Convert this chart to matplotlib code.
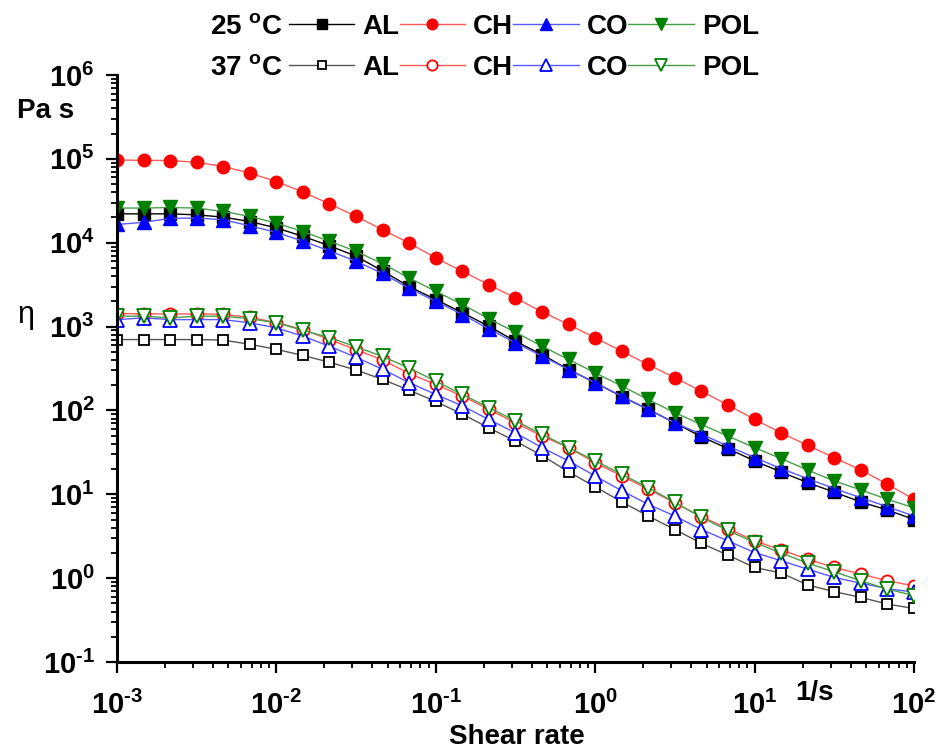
import numpy as np
import matplotlib
matplotlib.use('Agg')
import matplotlib.pyplot as plt
from matplotlib.ticker import LogLocator, FuncFormatter, NullFormatter

plt.rcParams['font.family'] = ['Liberation Sans', 'DejaVu Sans']
plt.rcParams['mathtext.fontset'] = 'custom'
plt.rcParams['mathtext.rm'] = 'Liberation Sans:bold'
plt.rcParams['mathtext.bf'] = 'Liberation Sans:bold'
plt.rcParams['mathtext.it'] = 'Liberation Sans:italic'

# ---------------- data ----------------
shear_rate = [0.001, 0.00147, 0.00215, 0.00316, 0.00464, 0.00681,
              0.01, 0.0147, 0.0215, 0.0316, 0.0464, 0.0681,
              0.1, 0.147, 0.215, 0.316, 0.464, 0.681,
              1.0, 1.47, 2.15, 3.16, 4.64, 6.81,
              10.0, 14.7, 21.5, 31.6, 46.4, 68.1, 100.0]

al_25 = [22100, 22100, 22100, 21500, 20200, 17900, 15000, 11900, 9200, 6900,
         4600, 3000, 2100, 1460, 1010, 668, 464, 307, 214, 146,
         103, 71, 48.6, 35, 25, 18.4, 13.8, 10.6, 8.1, 6.5, 5.0]
ch_25 = [97000, 96000, 95500, 91000, 81000, 67600, 53700, 40200, 29100, 20600,
         14300, 9900, 6580, 4550, 3160, 2190, 1500, 1060, 733, 508,
         353, 245, 170, 116, 78, 54, 38.3, 27.3, 19.5, 13.2, 8.7]
co_25 = [16500, 17500, 19500, 19700, 18800, 15900, 13300, 10400, 8000, 6000,
         4300, 2850, 2000, 1390, 938, 640, 444, 307, 214, 148,
         103, 71, 52, 37.6, 27.4, 20.2, 15.4, 11.7, 9.1, 7.1, 5.5]
pol_25 = [25900, 25900, 26300, 25900, 23600, 20600, 17100, 13600, 10400, 7900,
          5600, 3800, 2630, 1830, 1240, 855, 583, 405, 281, 195,
          135, 94, 68, 49.4, 36, 26.6, 19.5, 14.4, 11.3, 8.7, 6.9]

al_37 = [700, 700, 700, 700, 690, 615, 535, 452, 376, 303,
         234, 174, 128, 90, 62, 43, 29, 18.5, 12.3, 8.1,
         5.5, 3.8, 2.6, 1.88, 1.34, 1.15, 0.83, 0.69, 0.59, 0.49, 0.435]
ch_37 = [1430, 1420, 1410, 1420, 1400, 1290, 1117, 920, 700, 530,
         400, 275, 204, 148, 103, 71, 49.4, 36, 23.8, 16.5,
         11.5, 7.9, 5.4, 3.9, 2.78, 2.17, 1.68, 1.34, 1.12, 0.93, 0.81]
co_37 = [1210, 1270, 1210, 1210, 1210, 1110, 964, 767, 583, 430,
         310, 214, 155, 113, 78, 54, 36, 25, 16.5, 11,
         7.6, 5.5, 3.8, 2.78, 2.02, 1.61, 1.28, 1.02, 0.87, 0.75, 0.68]
pol_37 = [1330, 1330, 1270, 1330, 1330, 1240, 1110, 900, 740, 573,
          440, 320, 223, 155, 108, 75, 52, 36, 25, 17.3,
          12, 8.0, 5.3, 3.7, 2.66, 1.99, 1.51, 1.19, 0.93, 0.74, 0.62]

sample_labels = ['AL', 'CH', 'CO', 'POL']
temp_labels = ['25 $^{\\mathbf{o}}$C', '37 $^{\\mathbf{o}}$C']

# ---------------- styles ----------------
marker_colors = ['#000000', '#ff0000', '#0000ff', '#008000']
line_colors_25 = ['#000000', '#ff5a5a', '#5a5aff', '#4a9f4a']
line_colors_37 = ['#555555', '#ff5a5a', '#5a5aff', '#4a9f4a']
markers = ['s', 'o', '^', 'v']
msize_filled = [8, 9, 10, 10]
msize_open = [7.2, 8.7, 9.6, 9.6]

W, H = 944, 751
fig = plt.figure(figsize=(W / 100, H / 100), dpi=100)
ax = fig.add_axes([117 / W, 1 - 662 / H, 797 / W, 587 / H])

handles_25 = []
for vals, lc, mc, mk, ms in zip([al_25, ch_25, co_25, pol_25], line_colors_25,
                                marker_colors, markers, msize_filled):
    h, = ax.plot(shear_rate, vals, color=lc, lw=1.0, marker=mk, ms=ms,
                 mfc=mc, mec=mc, mew=1.0)
    handles_25.append(h)

handles_37 = []
for vals, lc, mc, mk, ms in zip([al_37, ch_37, co_37, pol_37], line_colors_37,
                                marker_colors, markers, msize_open):
    h, = ax.plot(shear_rate, vals, color=lc, lw=1.0, marker=mk, ms=ms,
                 mfc='white', mec=mc, mew=1.3)
    handles_37.append(h)

ax.set_xscale('log')
ax.set_yscale('log')
ax.set_xlim(1e-3, 1e2)
ax.set_ylim(1e-1, 1e6)


def pow_label(v, p):
    e = int(round(np.log10(v)))
    if e < 0:
        return r'$\mathbf{10^{\text{-}%d}}$' % (-e)
    return r'$\mathbf{10^{%d}}$' % e


fmt = FuncFormatter(pow_label)
for axis in (ax.xaxis, ax.yaxis):
    axis.set_major_locator(LogLocator(base=10, numticks=20))
    axis.set_minor_locator(LogLocator(base=10, subs=np.arange(2, 10), numticks=20))
    axis.set_major_formatter(fmt)
    axis.set_minor_formatter(NullFormatter())

ax.tick_params(which='major', direction='out', length=8, width=1.6,
               labelsize=21, pad=8, top=False, right=False)
ax.tick_params(axis='x', which='major', pad=13)
ax.tick_params(which='minor', direction='out', length=4.5, width=1.3,
               top=False, right=False)
for s in ('top', 'right'):
    ax.spines[s].set_visible(False)
for s in ('left', 'bottom'):
    ax.spines[s].set_linewidth(2.2)

# axis annotations
fig.text(17 / W, 1 - 118 / H, 'Pa s', fontsize=20, fontweight='bold',
         ha='left', va='baseline')
fig.text(17 / W, 1 - 323 / H, '\u03b7', fontsize=22, ha='left', va='baseline')
fig.text(795 / W, 1 - 700 / H, '1/s', fontsize=20, fontweight='bold',
         ha='left', va='baseline')
fig.text(517 / W, 1 - 737 / H, 'Shear rate', fontsize=20, fontweight='bold',
         ha='center', va='center')

# legend rows
row_y = [1 - 27 / H, 1 - 68 / H]
for ylab, tlab, hs in zip(row_y, temp_labels, [handles_25, handles_37]):
    fig.text(283 / W, ylab, tlab, fontsize=20, fontweight='bold',
             ha='right', va='center')
    leg = fig.legend(hs, sample_labels, loc='center left',
                     bbox_to_anchor=(289 / W, ylab), ncol=4, frameon=False,
                     handlelength=2.35, handletextpad=0.3, columnspacing=0.0,
                     borderpad=0, borderaxespad=0, markerscale=0.85,
                     prop={'weight': 'bold', 'size': 20})

fig.savefig('out.png', dpi=100)
